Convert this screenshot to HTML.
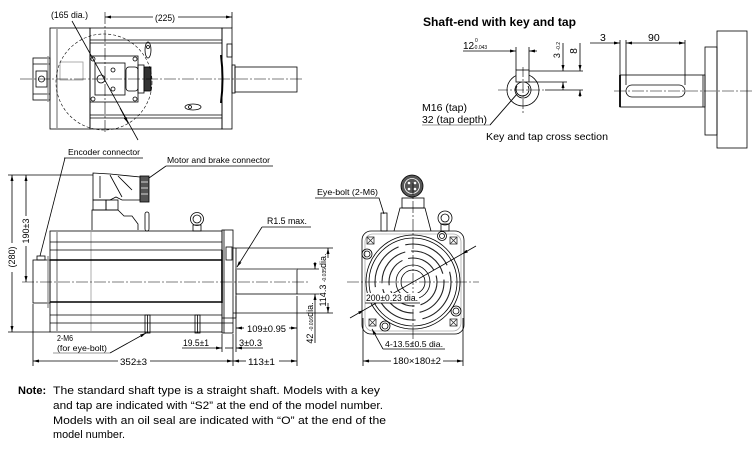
<!DOCTYPE html>
<html><head><meta charset="utf-8">
<style>
html,body{margin:0;padding:0;background:#fff;}
svg{display:block}
text{font-family:"Liberation Sans",Arial,sans-serif;fill:#000;stroke:none}
</style></head><body>
<svg width="755" height="450" viewBox="0 0 755 450" xmlns="http://www.w3.org/2000/svg">
<defs>
<marker id="a" viewBox="0 0 8 4" refX="8" refY="2" markerWidth="6" markerHeight="3" orient="auto-start-reverse" markerUnits="userSpaceOnUse"><path d="M0,0L8,2L0,4z" fill="#000"/></marker>
</defs>
<rect width="755" height="450" fill="#fff"/>

<!-- ================= TOP VIEW ================= -->
<g fill="none" stroke="#000" stroke-width="0.8">
  <rect x="33" y="58" width="17" height="42"/>
  <line x1="33" y1="64" x2="50" y2="64"/>
  <line x1="33" y1="94" x2="50" y2="94"/>
  <rect x="36" y="71" width="11" height="16"/>
  <circle cx="41.5" cy="79" r="3"/>
  <line x1="48" y1="56" x2="48" y2="102" stroke="#999" stroke-width="1.4"/>
  <rect x="50" y="28" width="40" height="101"/>
  <line x1="57" y1="28" x2="57" y2="129" stroke="#999" stroke-width="1.5"/>
  <rect x="60" y="62" width="23" height="18" stroke="#999"/>
  <rect x="90" y="28" width="132" height="101"/>
  <path d="M90 40H222M90 43H222M90 115H222M90 118H222"/>
  <rect x="222" y="28" width="10" height="101"/>
  <rect x="227" y="44" width="5" height="13"/>
  <path d="M221 55 Q224 79 221 103" stroke-width="2"/>
  <rect x="232" y="65" width="3" height="28"/>
  <rect x="235" y="67" width="62" height="25"/>
  <rect x="90" y="56" width="48" height="46"/>
  <rect x="95" y="63" width="30" height="32"/>
  <circle cx="93" cy="59" r="2"/><circle cx="135" cy="59" r="2"/>
  <circle cx="93" cy="99" r="2"/><circle cx="135" cy="99" r="2"/>
  <circle cx="101" cy="79" r="4"/>
  <circle cx="113" cy="70" r="2"/><circle cx="113" cy="89" r="2"/>
  <rect x="126" y="67" width="12" height="24" rx="3"/>
  <rect x="138" y="65" width="6" height="28"/>
  <rect x="144" y="67" width="7" height="24" fill="#333"/>
  <ellipse cx="148" cy="50" rx="3" ry="8"/>
  <circle cx="148" cy="47" r="1.5"/>
  <ellipse cx="193" cy="107" rx="8" ry="3"/>
  <circle cx="190" cy="107" r="1.5"/>
  <circle cx="104" cy="82" r="48" stroke-dasharray="3 2" stroke-width="0.6"/>
  <line x1="20" y1="79" x2="303" y2="79" stroke-dasharray="12 2 2 2" stroke-width="0.6"/>
  <line x1="105" y1="12" x2="105" y2="134" stroke-dasharray="12 2 2 2" stroke-width="0.6"/>
  <line x1="105" y1="17" x2="153" y2="17" marker-start="url(#a)"/>
  <line x1="178" y1="17" x2="232" y2="17" marker-end="url(#a)"/>
  <line x1="232" y1="12" x2="232" y2="28"/>
  <line x1="72" y1="21" x2="138" y2="140"/>
  <line x1="120" y1="108" x2="128" y2="123" marker-end="url(#a)"/>
</g>
<text x="51" y="18" font-size="9" textLength="37" lengthAdjust="spacingAndGlyphs">(165 dia.)</text>
<text x="155" y="21" font-size="9.5" textLength="20" lengthAdjust="spacingAndGlyphs">(225)</text>

<!-- ================= SHAFT-END ================= -->
<text x="423" y="26" font-size="11.5" font-weight="bold" textLength="153" lengthAdjust="spacingAndGlyphs">Shaft-end with key and tap</text>
<g fill="none" stroke="#000" stroke-width="0.8">
  <circle cx="523" cy="90" r="16"/>
  <circle cx="523" cy="90" r="8"/>
  <path d="M517 86 A6.5 6.5 0 1 0 528 86"/>
  <rect x="516" y="70" width="13" height="12" fill="#fff"/>
  <line x1="498" y1="90" x2="545" y2="90" stroke-dasharray="10 2 2 2" stroke-width="0.6"/>
  <line x1="523" y1="67" x2="523" y2="113" stroke-dasharray="10 2 2 2" stroke-width="0.6"/>
  <line x1="516" y1="47" x2="516" y2="70"/>
  <line x1="529" y1="47" x2="529" y2="70"/>
  <line x1="463" y1="51" x2="516" y2="51" marker-end="url(#a)"/>
  <line x1="537" y1="51" x2="529" y2="51" marker-end="url(#a)"/>
  <line x1="529" y1="71" x2="583" y2="71"/>
  <line x1="529" y1="82" x2="567" y2="82"/>
  <line x1="545" y1="90" x2="583" y2="90"/>
  <line x1="563" y1="43" x2="563" y2="71" marker-end="url(#a)"/>
  <line x1="563" y1="90" x2="563" y2="82" marker-end="url(#a)"/>
  <line x1="580" y1="43" x2="580" y2="71" marker-end="url(#a)"/>
  <line x1="580" y1="97" x2="580" y2="90" marker-end="url(#a)"/>
  <path d="M422 125H490L517 94" stroke="#999" stroke-width="1"/>
  <path d="M490 125L517 94"/>
  <rect x="620" y="75" width="85" height="32"/>
  <line x1="620" y1="75" x2="620" y2="107" stroke-width="1.8"/>
  <line x1="703" y1="75" x2="703" y2="107"/>
  <rect x="626" y="85" width="59" height="12" rx="6"/>
  <rect x="705" y="47" width="12" height="88"/>
  <rect x="717" y="31" width="30" height="117"/>
  <line x1="614" y1="91" x2="752" y2="91" stroke-dasharray="12 2 2 2" stroke-width="0.6"/>
  <line x1="620" y1="40" x2="620" y2="75"/>
  <line x1="626" y1="40" x2="626" y2="85"/>
  <line x1="685" y1="40" x2="685" y2="85"/>
  <line x1="590" y1="43" x2="620" y2="43" marker-end="url(#a)"/>
  <line x1="626" y1="43" x2="685" y2="43" marker-start="url(#a)" marker-end="url(#a)"/>
</g>
<text x="463" y="49" font-size="10">12</text>
<text x="475" y="42" font-size="5">0</text>
<text x="473" y="49" font-size="5">-0.043</text>
<text transform="translate(560,50) rotate(-90)" font-size="9" text-anchor="middle">3 <tspan font-size="5">-0.2</tspan></text>
<text transform="translate(577,51) rotate(-90)" font-size="10" text-anchor="middle">8</text>
<text x="422" y="111" font-size="10.5" textLength="45" lengthAdjust="spacingAndGlyphs">M16 (tap)</text>
<text x="422" y="123" font-size="10.5" textLength="65" lengthAdjust="spacingAndGlyphs">32 (tap depth)</text>
<text x="486" y="140" font-size="10.5" textLength="122" lengthAdjust="spacingAndGlyphs">Key and tap cross section</text>
<text x="600" y="41" font-size="10.5">3</text>
<text x="648" y="41" font-size="10.5">90</text>

<!-- ================= SIDE VIEW ================= -->
<g fill="none" stroke="#000" stroke-width="0.8">
  <rect x="33" y="260" width="17" height="43"/>
  <rect x="37" y="256" width="8" height="4"/>
  <line x1="48" y1="256" x2="48" y2="308" stroke="#999" stroke-width="1.4"/>
  <rect x="50" y="231" width="172" height="101"/>
  <line x1="57" y1="231" x2="57" y2="332" stroke="#999" stroke-width="1.5"/>
  <line x1="91" y1="231" x2="91" y2="332" stroke="#999"/>
  <path d="M50 242H222M50 250H222M50 315H222M50 323H222"/>
  <path d="M50 260H222M50 302H222" stroke-width="1.6"/>
  <line x1="222" y1="250" x2="222" y2="303" stroke-width="1.6"/>
  <rect x="222" y="230" width="11" height="103"/>
  <line x1="224" y1="230" x2="224" y2="333"/>
  <rect x="226" y="247" width="6" height="13"/>
  <path d="M222 318H233M222 323H233"/>
  <line x1="236" y1="248" x2="236" y2="318"/>
  <line x1="233" y1="248" x2="236" y2="248"/>
  <line x1="233" y1="318" x2="236" y2="318"/>
  <rect x="236" y="269" width="61" height="25"/>
  <line x1="236" y1="269" x2="297" y2="269" stroke="#888" stroke-width="1.5"/>
  <path d="M93 173L110 174L140 177V200H122L116 197L110 200H93Z"/>
  <path d="M100 176V198M110 175L122 197M118 176L132 190"/>
  <rect x="93" y="200" width="13" height="10"/>
  <rect x="106" y="200" width="12" height="10"/>
  <path d="M92 230V210H118L124 216H132L138 224V230"/>
  <rect x="140" y="176" width="9" height="26" fill="#555"/>
  <path d="M141 182H148M141 188H148M141 194H148" stroke="#fff"/>
  <rect x="145" y="212" width="4" height="19" rx="2"/>
  <circle cx="197" cy="219" r="6.5"/>
  <circle cx="197" cy="219" r="4"/>
  <rect x="193" y="225" width="8" height="6"/>
  <rect x="145" y="315" width="5" height="18"/>
  <line x1="147.5" y1="315" x2="147.5" y2="333"/>
  <rect x="195" y="315" width="5" height="18"/>
  <line x1="197.5" y1="315" x2="197.5" y2="333"/>
  <line x1="22" y1="282" x2="310" y2="282" stroke-dasharray="12 2 2 2" stroke-width="0.6"/>
  <line x1="8" y1="175" x2="93" y2="175"/>
  <line x1="8" y1="332" x2="50" y2="332"/>
  <line x1="12" y1="243" x2="12" y2="175" marker-end="url(#a)"/>
  <line x1="12" y1="272" x2="12" y2="332" marker-end="url(#a)"/>
  <line x1="26" y1="216" x2="26" y2="175" marker-end="url(#a)"/>
  <line x1="26" y1="246" x2="26" y2="282" marker-end="url(#a)"/>
  <line x1="33" y1="304" x2="33" y2="366"/>
  <line x1="222" y1="334" x2="222" y2="352"/>
  <line x1="233" y1="334" x2="233" y2="366"/>
  <line x1="236" y1="296" x2="236" y2="352"/>
  <line x1="297" y1="296" x2="297" y2="366"/>
  <line x1="118" y1="361" x2="33" y2="361" marker-end="url(#a)"/>
  <line x1="150" y1="361" x2="233" y2="361" marker-end="url(#a)"/>
  <line x1="246" y1="361" x2="233" y2="361" marker-end="url(#a)"/>
  <line x1="279" y1="361" x2="297" y2="361" marker-end="url(#a)"/>
  <line x1="182" y1="348" x2="222" y2="348" marker-end="url(#a)"/>
  <line x1="263" y1="348" x2="236" y2="348" marker-end="url(#a)"/>
  <line x1="225" y1="348" x2="233" y2="348"/>
  <line x1="244" y1="328" x2="236" y2="328" marker-end="url(#a)"/>
  <line x1="289" y1="328" x2="297" y2="328" marker-end="url(#a)"/>
  <line x1="236" y1="248" x2="333" y2="248"/>
  <line x1="233" y1="313" x2="333" y2="313"/>
  <line x1="297" y1="269" x2="319" y2="269"/>
  <line x1="297" y1="294" x2="319" y2="294"/>
  <line x1="328" y1="258" x2="328" y2="248" marker-end="url(#a)"/>
  <line x1="328" y1="303" x2="328" y2="313" marker-end="url(#a)"/>
  <line x1="315" y1="262" x2="315" y2="269" marker-end="url(#a)"/>
  <line x1="315" y1="343" x2="315" y2="294" marker-end="url(#a)"/>
  <path d="M65 158L40 256" />
  <path d="M64 158H143"/>
  <path d="M166 166H273"/>
  <path d="M166 166L149 178"/>
  <path d="M262 227H311"/>
  <line x1="262" y1="227" x2="237" y2="267" marker-end="url(#a)"/>
  <path d="M53 353H110" stroke="#999" stroke-width="1"/>
  <line x1="110" y1="353" x2="146" y2="333" marker-end="url(#a)"/>
</g>
<text x="68" y="155" font-size="8.5" textLength="72" lengthAdjust="spacingAndGlyphs">Encoder connector</text>
<text x="167" y="163" font-size="8.5" textLength="103" lengthAdjust="spacingAndGlyphs">Motor and brake connector</text>
<text x="267" y="224" font-size="9" textLength="40" lengthAdjust="spacingAndGlyphs">R1.5 max.</text>
<text transform="translate(15,257) rotate(-90)" font-size="9" text-anchor="middle">(280)</text>
<text transform="translate(29,231) rotate(-90)" font-size="9" text-anchor="middle">190±3</text>
<text x="57" y="341" font-size="8.5" textLength="16" lengthAdjust="spacingAndGlyphs">2-M6</text>
<text x="57" y="351" font-size="8.5" textLength="50" lengthAdjust="spacingAndGlyphs">(for eye-bolt)</text>
<text x="120" y="365" font-size="9.5" textLength="27" lengthAdjust="spacingAndGlyphs">352±3</text>
<text x="248" y="365" font-size="9.5" textLength="27" lengthAdjust="spacingAndGlyphs">113±1</text>
<text x="183" y="346" font-size="9.5" textLength="26" lengthAdjust="spacingAndGlyphs">19.5±1</text>
<text x="239" y="346" font-size="9.5" textLength="23" lengthAdjust="spacingAndGlyphs">3±0.3</text>
<text x="247" y="332" font-size="9.5" textLength="39" lengthAdjust="spacingAndGlyphs">109±0.95</text>
<text transform="translate(326,280) rotate(-90)" font-size="9" text-anchor="middle">114.3 <tspan font-size="5">-0.035</tspan>dia.</text>
<text transform="translate(313,323) rotate(-90)" font-size="9" text-anchor="middle">42 <tspan font-size="5">-0.016</tspan>dia.</text>

<!-- ================= FRONT VIEW ================= -->
<g fill="none" stroke="#000" stroke-width="0.8">
  <path d="M394 231L400 208H425L431 231"/>
  <rect x="402" y="198" width="22" height="10"/>
  <circle cx="412" cy="186" r="11" fill="#555"/>
  <circle cx="412" cy="186" r="7.5" stroke="#fff"/>
  <circle cx="409" cy="183" r="1.3" fill="#fff" stroke="none"/>
  <circle cx="415" cy="183" r="1.3" fill="#fff" stroke="none"/>
  <circle cx="409" cy="189" r="1.3" fill="#fff" stroke="none"/>
  <circle cx="415" cy="189" r="1.3" fill="#fff" stroke="none"/>
  <rect x="381" y="213" width="6" height="18"/>
  <circle cx="445" cy="218" r="7"/>
  <circle cx="445" cy="218" r="4"/>
  <rect x="441" y="224" width="8" height="7"/>
  <rect x="362" y="231" width="102" height="103" rx="9"/>
  <rect x="365" y="234" width="96" height="97" rx="8" stroke="#aaa"/>
  <circle cx="413" cy="282" r="47"/>
  <circle cx="413" cy="282" r="44"/>
  <circle cx="413" cy="282" r="38" stroke-width="1.1" stroke="#222" stroke-dasharray="50 7"/>
  <circle cx="413" cy="282" r="31" stroke-width="1.1" stroke="#222" stroke-dasharray="42 6"/>
  <circle cx="413" cy="282" r="24" stroke-width="1.1" stroke="#222" stroke-dasharray="30 6"/>
  <circle cx="413" cy="282" r="17"/>
  <circle cx="413" cy="282" r="12"/>
  <g stroke="#333">
    <rect x="367" y="237" width="7" height="7"/><path d="M367 237L374 244M374 237L367 244"/>
    <rect x="450" y="237" width="7" height="7"/><path d="M450 237L457 244M457 237L450 244"/>
    <rect x="369" y="319" width="7" height="7"/><path d="M369 319L376 326M376 319L369 326"/>
    <rect x="450" y="319" width="7" height="7"/><path d="M450 319L457 326M457 319L450 326"/>
  </g>
  <circle cx="367" cy="254" r="5"/><circle cx="367" cy="254" r="3"/>
  <circle cx="442" cy="236" r="4.5"/><circle cx="442" cy="236" r="2.5"/>
  <circle cx="456" cy="311" r="5"/><circle cx="456" cy="311" r="3"/>
  <circle cx="385" cy="326" r="5"/><circle cx="385" cy="326" r="3"/>
  <line x1="347" y1="282" x2="479" y2="282" stroke-dasharray="12 2 2 2" stroke-width="0.6"/>
  <line x1="413" y1="183" x2="413" y2="346" stroke-dasharray="12 2 2 2" stroke-width="0.6"/>
  <line x1="350" y1="318" x2="364" y2="310" marker-end="url(#a)"/>
  <line x1="364" y1="310" x2="462" y2="254"/>
  <line x1="476" y1="246" x2="462" y2="254" marker-end="url(#a)"/>
  <path d="M315 198H379L384 214"/>
  <path d="M383 349H445"/>
  <line x1="383" y1="349" x2="372" y2="329" marker-end="url(#a)"/>
  <line x1="363" y1="318" x2="363" y2="366"/>
  <line x1="463" y1="318" x2="463" y2="366"/>
  <line x1="391" y1="361" x2="363" y2="361" marker-end="url(#a)"/>
  <line x1="443" y1="361" x2="463" y2="361" marker-end="url(#a)"/>
</g>
<rect x="366" y="293" width="53" height="10" fill="#fff"/>
<line x1="365" y1="303" x2="420" y2="303" stroke="#000" stroke-width="0.8"/>
<text x="366" y="301" font-size="9" textLength="52" lengthAdjust="spacingAndGlyphs">200±0.23 dia.</text>
<text x="317" y="195" font-size="8.5" textLength="61" lengthAdjust="spacingAndGlyphs">Eye-bolt (2-M6)</text>
<text x="385" y="347" font-size="8.5" textLength="58" lengthAdjust="spacingAndGlyphs">4-13.5±0.5 dia.</text>
<text x="393" y="364" font-size="9" textLength="48" lengthAdjust="spacingAndGlyphs">180×180±2</text>

<!-- ================= NOTE ================= -->
<text x="18" y="394" font-size="11" font-weight="bold">Note:</text>
<text x="53" y="394" font-size="11" textLength="327" lengthAdjust="spacingAndGlyphs">The standard shaft type is a straight shaft. Models with a key</text>
<text x="53" y="409" font-size="11" textLength="330" lengthAdjust="spacingAndGlyphs">and tap are indicated with “S2” at the end of the model number.</text>
<text x="53" y="424" font-size="11" textLength="333" lengthAdjust="spacingAndGlyphs">Models with an oil seal are indicated with “O” at the end of the</text>
<text x="53" y="438" font-size="11" textLength="72" lengthAdjust="spacingAndGlyphs">model number.</text>
</svg>
</body></html>
